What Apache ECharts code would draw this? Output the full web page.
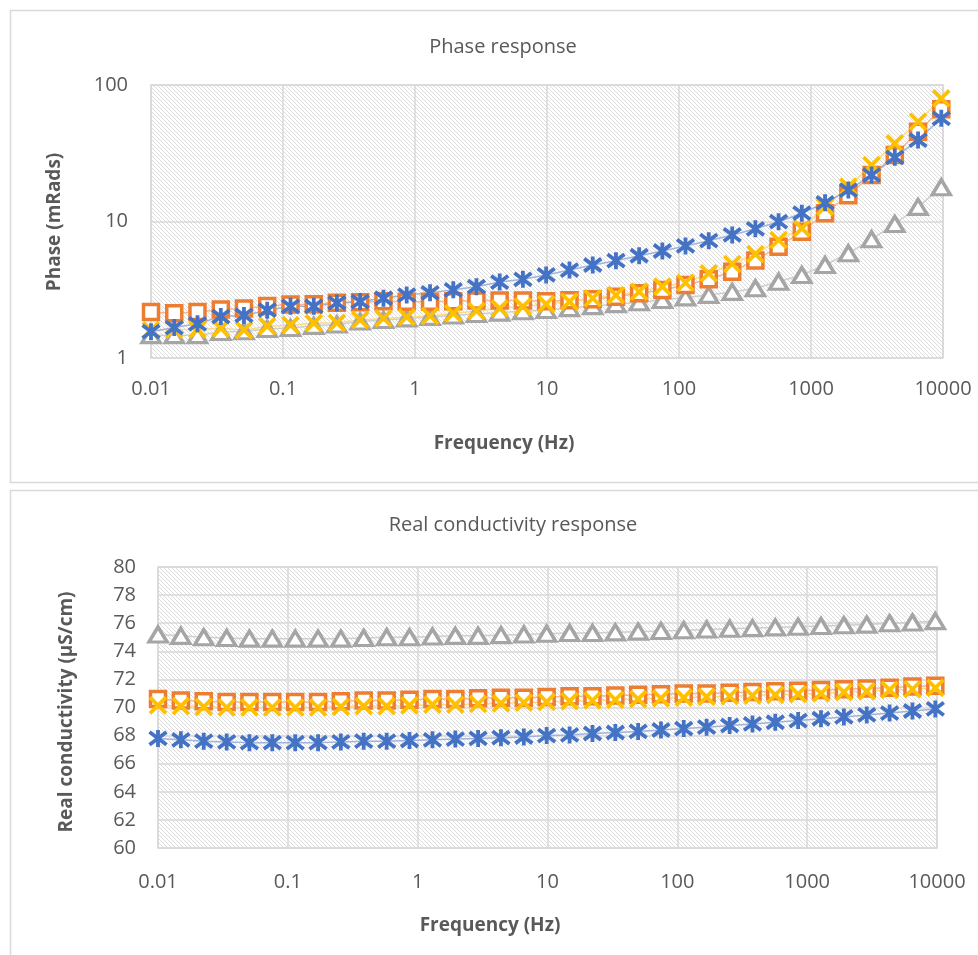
<!DOCTYPE html>
<html>
<head>
<meta charset="utf-8">
<script src="https://cdn.jsdelivr.net/npm/echarts@6/dist/echarts.min.js"></script>
<style>
html,body{margin:0;padding:0;background:#fff;}
#chart{width:978px;height:955px;}
</style>
</head>
<body>
<div id="chart"></div>
<script>
// ---------------- data ----------------
const freqHz = [0.01,0.015,0.0225,0.0338,0.0506,0.0759,0.114,0.171,0.256,0.384,0.577,0.865,1.30,1.95,2.92,4.38,6.57,9.85,14.8,22.2,33.3,49.9,74.8,112,168,253,379,568,852,1278,1918,2876,4314,6472,9707];

const phaseBlue   = [1.56,1.67,1.78,2.01,2.05,2.24,2.39,2.39,2.53,2.59,2.74,2.89,3.0,3.16,3.33,3.6,3.77,4.06,4.41,4.80,5.16,5.61,6.08,6.62,7.23,7.97,8.84,9.97,11.5,13.7,17.0,21.9,29.5,39.5,57.0];
const phaseOrange = [2.17,2.13,2.17,2.27,2.30,2.40,2.47,2.48,2.54,2.56,2.60,2.58,2.58,2.60,2.64,2.64,2.64,2.60,2.65,2.69,2.81,2.98,3.15,3.43,3.77,4.29,5.19,6.54,8.42,11.5,15.6,21.9,30.7,45.5,66.4];
const phaseYellow = [1.60,1.62,1.62,1.65,1.60,1.71,1.74,1.80,1.81,1.90,1.95,1.99,2.03,2.12,2.21,2.31,2.38,2.48,2.59,2.74,2.89,3.06,3.33,3.56,4.17,4.88,5.77,7.32,8.91,12.8,18.0,25.9,37.4,53.8,79.9];
const phaseGray   = [1.47,1.47,1.47,1.55,1.57,1.63,1.66,1.72,1.76,1.85,1.90,1.95,2.00,2.05,2.10,2.15,2.20,2.25,2.32,2.40,2.48,2.56,2.66,2.78,2.90,3.05,3.24,3.62,4.06,4.80,5.85,7.41,9.59,12.8,17.8];

const condBlue   = [67.8,67.7,67.6,67.55,67.5,67.5,67.5,67.5,67.55,67.6,67.6,67.65,67.7,67.75,67.8,67.85,67.9,68.0,68.05,68.15,68.22,68.3,68.4,68.5,68.6,68.72,68.83,68.95,69.07,69.2,69.33,69.47,69.6,69.75,69.9];
const condOrange = [70.6,70.5,70.45,70.4,70.4,70.4,70.4,70.4,70.45,70.5,70.5,70.55,70.6,70.6,70.65,70.7,70.7,70.75,70.8,70.8,70.85,70.9,70.95,71.0,71.0,71.05,71.1,71.15,71.2,71.25,71.3,71.35,71.4,71.5,71.55];
const condYellow = [70.15,70.1,70.05,70.0,70.0,70.0,70.0,70.0,70.05,70.1,70.1,70.15,70.2,70.2,70.25,70.3,70.35,70.4,70.45,70.5,70.55,70.6,70.65,70.7,70.75,70.8,70.85,70.9,70.95,71.0,71.1,71.15,71.25,71.3,71.4];
const condGray   = [75.2,75.1,75.0,74.95,74.9,74.9,74.9,74.9,74.9,74.95,75.0,75.0,75.05,75.1,75.1,75.15,75.2,75.25,75.3,75.3,75.35,75.4,75.45,75.5,75.55,75.6,75.65,75.7,75.75,75.8,75.85,75.9,76.0,76.05,76.15];

const xTickLabels = ['0.01','0.1','1','10','100','1000','10000'];
const phaseTicks = ['1','10','100'];
const condTicks = ['60','62','64','66','68','70','72','74','76','78','80'];

// ---------------- styles ----------------
const FONT = "'Open Sans', 'Noto Sans', sans-serif";
const TXT = '#595959';
const GRIDC = '#d9d9d9';

const hatch = document.createElement('canvas');
hatch.width = 4; hatch.height = 4;
(function(){
  const c = hatch.getContext('2d');
  c.fillStyle = '#ffffff'; c.fillRect(0,0,4,4);
  c.strokeStyle = '#dcdcdc'; c.lineWidth = 1;
  c.beginPath();
  c.moveTo(-1,-1); c.lineTo(5,5);
  c.moveTo(-1,3); c.lineTo(1,5);
  c.moveTo(3,-1); c.lineTo(5,1);
  c.stroke();
})();
const hatchFill = {image: hatch, repeat: 'repeat'};

const STAR = 'path://M8,0L8,16M2,2L14,14M14,2L2,14';
const CROSS = 'path://M0,0L16,16M16,0L0,16';

const pair = ys => freqHz.map((f,i)=>[f, ys[i]]);

function mkSeries(name, ys, xi, color, lineColor, kind){
  const s = {
    name, type:'line', xAxisIndex:xi, yAxisIndex:xi,
    data: pair(ys), showAllSymbol:true,
    lineStyle:{color:lineColor, width:1.5},
    emphasis:{disabled:true}, animation:false
  };
  if (kind==='tri'){ s.symbol='triangle'; s.symbolSize=[18,15]; s.itemStyle={color:'#ffffff', borderColor:color, borderWidth:3.4}; }
  if (kind==='sq'){ s.symbol='rect'; s.symbolSize=15; s.itemStyle={color:'#ffffff', borderColor:color, borderWidth:3.5}; }
  if (kind==='x'){ s.symbol=CROSS; s.symbolSize=16; s.itemStyle={color:color, borderColor:color, borderWidth:3.8}; }
  if (kind==='star'){ s.symbol=STAR; s.symbolSize=17; s.itemStyle={color:color, borderColor:color, borderWidth:3.8}; }
  return s;
}

const BLUE='#4472C4', ORANGE='#ED7D31', YELLOW='#FFC000', GRAY='#A5A5A5';
const BLUEL='#9db4e0', ORANGEL='#f5b893', YELLOWL='#ffdb80', GRAYL='#cfcfcf';

const xFmt = v => { const s = String(+(+v).toPrecision(6)); return xTickLabels.indexOf(s)>=0 ? s : ''; };

function xAxisCfg(gi){
  return {
    type:'log', logBase:10, gridIndex:gi, min:0.01, max:10000,
    axisLine:{show:false}, axisTick:{show:false},
    splitLine:{show:true, lineStyle:{color:GRIDC, width:1.5}},
    axisLabel:{color:TXT, fontFamily:FONT, fontSize:20, margin: gi===0?21:24, formatter:xFmt}
  };
}

const option = {
  backgroundColor:'#ffffff',
  animation:false,
  grid:[
    {left:151, top:85, width:792, height:273, show:true, backgroundColor:hatchFill, borderColor:GRIDC, borderWidth:1.5},
    {left:158, top:567, width:779, height:281, show:true, backgroundColor:hatchFill, borderColor:GRIDC, borderWidth:1.5}
  ],
  xAxis:[ xAxisCfg(0), xAxisCfg(1) ],
  yAxis:[
    {type:'log', logBase:10, gridIndex:0, min:1, max:100,
     axisLine:{show:false}, axisTick:{show:false},
     splitLine:{show:true, lineStyle:{color:GRIDC, width:1.5}},
     axisLabel:{color:TXT, fontFamily:FONT, fontSize:20, margin:23,
       formatter: v => { const s = String(+(+v).toPrecision(6)); return phaseTicks.indexOf(s)>=0 ? s : ''; }}},
    {type:'value', gridIndex:1, min:60, max:80, interval:2,
     axisLine:{show:false}, axisTick:{show:false},
     splitLine:{show:true, lineStyle:{color:GRIDC, width:1.5}},
     axisLabel:{color:TXT, fontFamily:FONT, fontSize:20, margin:22,
       formatter: v => { const s = String(v); return condTicks.indexOf(s)>=0 ? s : ''; }}}
  ],
  series:[
    mkSeries('Gray', phaseGray, 0, GRAY, GRAYL, 'tri'),
    mkSeries('Orange', phaseOrange, 0, ORANGE, ORANGEL, 'sq'),
    mkSeries('Yellow', phaseYellow, 0, YELLOW, YELLOWL, 'x'),
    mkSeries('Blue', phaseBlue, 0, BLUE, BLUEL, 'star'),
    mkSeries('Gray', condGray, 1, GRAY, GRAYL, 'tri'),
    mkSeries('Orange', condOrange, 1, ORANGE, ORANGEL, 'sq'),
    mkSeries('Yellow', condYellow, 1, YELLOW, YELLOWL, 'x'),
    mkSeries('Blue', condBlue, 1, BLUE, BLUEL, 'star')
  ],
  graphic:[
    {type:'rect', shape:{x:10.5, y:10.5, width:1000, height:472}, style:{fill:null, stroke:GRIDC, lineWidth:1.5}, silent:true, z:-10},
    {type:'rect', shape:{x:10.5, y:490.5, width:1000, height:480}, style:{fill:null, stroke:GRIDC, lineWidth:1.5}, silent:true, z:-10},
    {type:'text', x:503, y:47, style:{text:'Phase response', fill:TXT, font:"20px 'Open Sans', sans-serif", textAlign:'center', textVerticalAlign:'middle'}},
    {type:'text', x:513, y:525, style:{text:'Real conductivity response', fill:TXT, font:"20px 'Open Sans', sans-serif", textAlign:'center', textVerticalAlign:'middle'}},
    {type:'text', x:504, y:444, style:{text:'Frequency (Hz)', fill:TXT, font:"bold 19px 'Open Sans', sans-serif", textAlign:'center', textVerticalAlign:'middle'}},
    {type:'text', x:490, y:926, style:{text:'Frequency (Hz)', fill:TXT, font:"bold 19px 'Open Sans', sans-serif", textAlign:'center', textVerticalAlign:'middle'}},
    {type:'text', x:55, y:222, rotation:Math.PI/2, style:{text:'Phase (mRads)', fill:TXT, font:"bold 19px 'Open Sans', sans-serif", textAlign:'center', textVerticalAlign:'middle'}},
    {type:'text', x:67, y:712, rotation:Math.PI/2, style:{text:'Real conductivity (µS/cm)', fill:TXT, font:"bold 19px 'Open Sans', sans-serif", textAlign:'center', textVerticalAlign:'middle'}}
  ]
};

const chart = echarts.init(document.getElementById('chart'), null, {renderer:'canvas'});
chart.setOption(option);
</script>
</body>
</html>
